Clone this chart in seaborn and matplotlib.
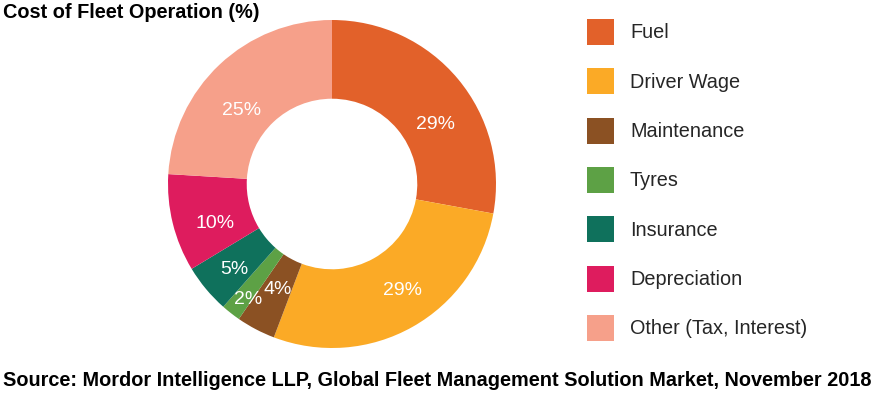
import matplotlib
matplotlib.use("Agg")
import matplotlib.pyplot as plt
import seaborn as sns
import numpy as np
from matplotlib.patches import Patch

sns.set_theme(style="white")
plt.rcParams['font.family'] = ['Liberation Sans', 'DejaVu Sans']

categories = ["Fuel", "Driver Wage", "Maintenance", "Tyres", "Insurance",
              "Depreciation", "Other (Tax, Interest)"]
values = [29, 29, 4, 2, 5, 10, 25]
value_labels = ["29%", "29%", "4%", "2%", "5%", "10%", "25%"]
colors = ["#E2612A", "#FBAA26", "#8B5123", "#5DA145", "#0F715C", "#DE1C5E", "#F6A08A"]

W, H = 874, 404
fig = plt.figure(figsize=(W / 100, H / 100), dpi=100)
cx, cy, r = 332, 184, 164
ax = fig.add_axes([(cx - r) / W, (H - cy - r) / H, 2 * r / W, 2 * r / H])

it = iter(value_labels)
wedges, texts, autotexts = ax.pie(
    values, colors=colors, startangle=90, counterclock=False, radius=1,
    wedgeprops=dict(width=0.48, linewidth=0),
    autopct=lambda p: next(it), pctdistance=0.75,
    textprops=dict(color="white", fontsize=14))
# label placement tweaks: (angle shift in degrees, radial factor)
tweaks = [(-10.0, 0.973), (4.1, 1.039), (0.6, 0.963), (2.0, 1.157),
          (1.5, 1.055), (5.1, 1.001), (7.6, 0.943)]
for t, (da, fr) in zip(autotexts, tweaks):
    x, y = t.get_position()
    rr = np.hypot(x, y) * fr
    a = np.arctan2(y, x) + np.deg2rad(da)
    t.set_position((rr * np.cos(a), rr * np.sin(a)))
ax.set_xlim(-1, 1)
ax.set_ylim(-1, 1)
ax.set_aspect("equal")
ax.axis("off")

fig.text(3 / W, 1 - 12 / H, "Cost of Fleet Operation (%)", fontsize=14.3,
         fontweight="bold", ha="left", va="center", color="black")

handles = [Patch(facecolor=c, edgecolor="none") for c in colors]
fs = 14.3
px = fs * 100 / 72
hh = (26 / px - 0.245) / 0.65
fig.legend(handles, categories, loc="upper left",
           bbox_to_anchor=(587 / W, 1 - 19 / H), frameon=False,
           fontsize=fs, handlelength=27 / px, handleheight=hh,
           handletextpad=16 / px, labelspacing=(49.3 - 26) / px,
           borderpad=0, borderaxespad=0)

fig.text(3 / W, 1 - 381 / H,
         "Source: Mordor Intelligence LLP, Global Fleet Management Solution Market, November 2018",
         fontsize=14.3, fontweight="bold", ha="left", va="center",
         color="black")

fig.savefig("out.png", dpi=100)
